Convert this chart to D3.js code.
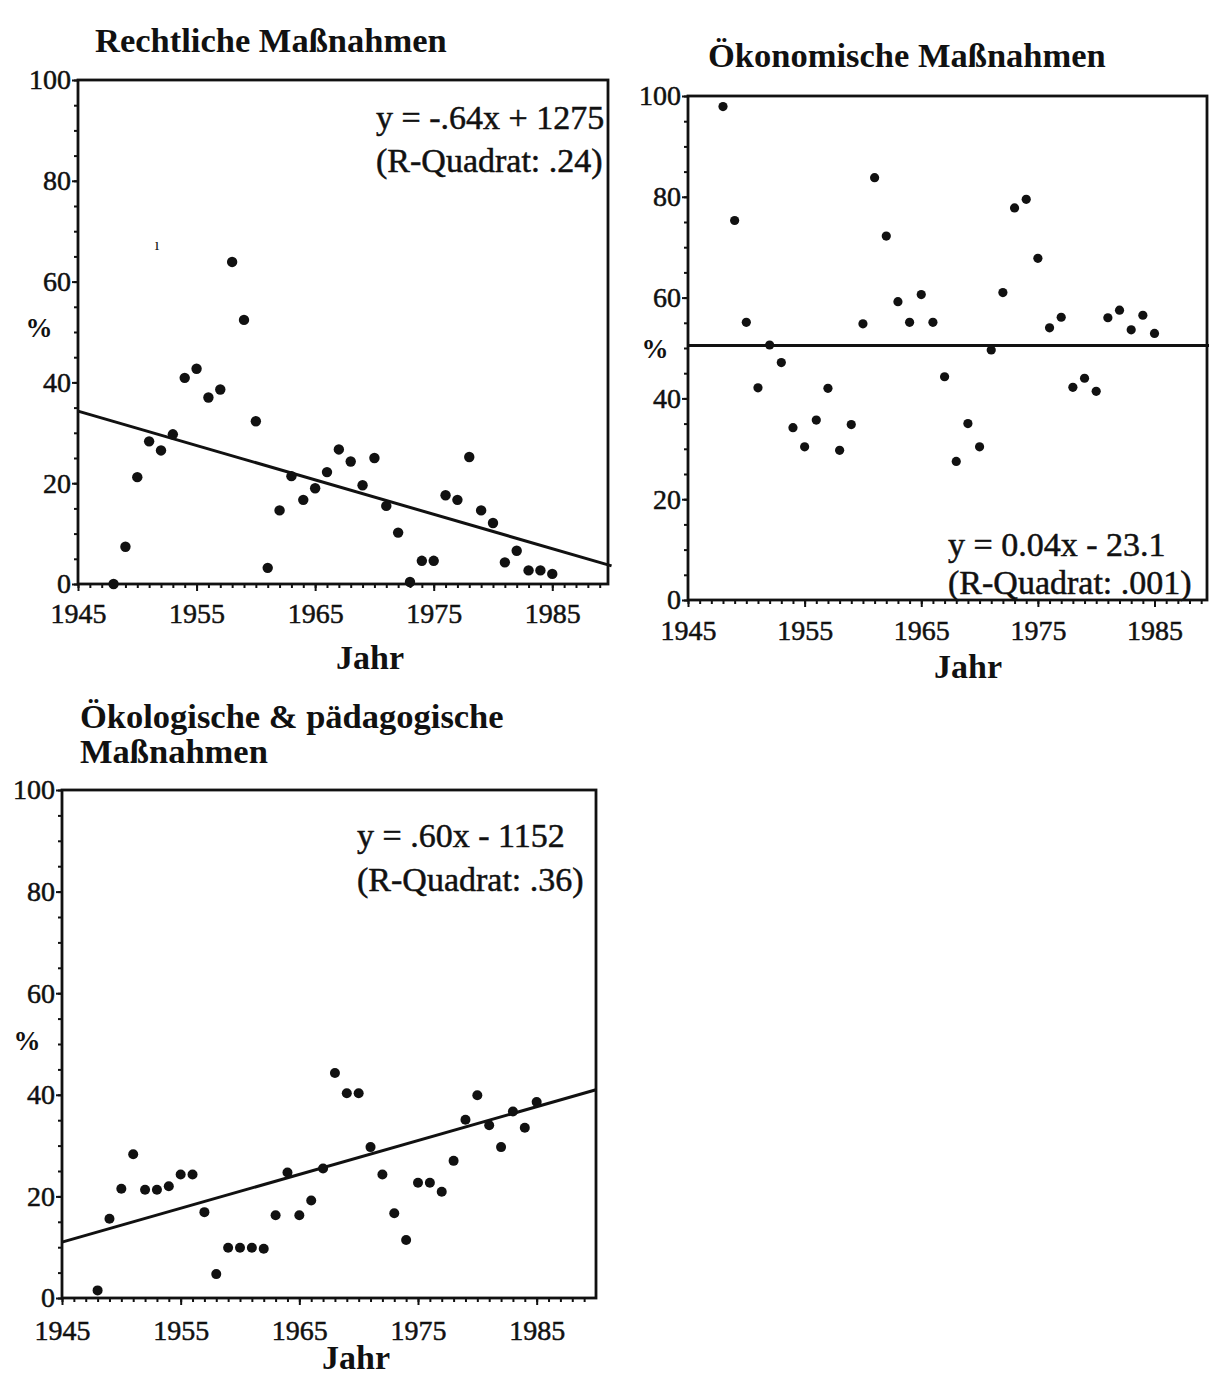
<!DOCTYPE html>
<html>
<head>
<meta charset="utf-8">
<script src="https://cdn.jsdelivr.net/npm/d3@7"></script>
<style>
  body { margin: 0; background: #fff; }
  text { font-family: "Liberation Serif", "DejaVu Serif", serif; fill: #111; }
</style>
</head>
<body>
<svg id="chart" width="1209" height="1376"></svg>
<script>
// Anteil der Maßnahmen (%) pro Jahr, drei Panels
var years = [1948, 1949, 1950, 1951, 1952, 1953, 1954, 1955, 1956, 1957,
             1958, 1959, 1960, 1961, 1962, 1963, 1964, 1965, 1966, 1967,
             1968, 1969, 1970, 1971, 1972, 1973, 1974, 1975, 1976, 1977,
             1978, 1979, 1980, 1981, 1982, 1983, 1984, 1985];

var rechtlich = [0, 7.4, 21.2, 28.3, 26.5, 29.7, 40.9, 42.7, 37, 38.6,
                 63.9, 52.4, 32.3, 3.2, 14.6, 21.4, 16.7, 19, 22.2, 26.7,
                 24.3, 19.6, 25, 15.5, 10.2, 0.4, 4.6, 4.6, 17.6, 16.7,
                 25.2, 14.6, 12.1, 4.3, 6.6, 2.7, 2.7, 2];

var oekonomisch = [97.9, 75.3, 55.1, 42.1, 50.6, 47.1, 34.2, 30.4, 35.7, 42,
                   29.7, 34.8, 54.8, 83.8, 72.2, 59.2, 55.1, 60.6, 55.1, 44.3,
                   27.5, 35, 30.4, 49.6, 61, 77.8, 79.5, 67.8, 54, 56.1,
                   42.2, 44, 41.4, 56, 57.5, 53.6, 56.5, 52.9];

var oekologisch = [1.5, 15.6, 21.5, 28.3, 21.3, 21.3, 22, 24.3, 24.3, 16.9,
                   4.7, 9.9, 9.9, 9.9, 9.7, 16.3, 24.7, 16.3, 19.2, 25.5,
                   44.3, 40.3, 40.3, 29.7, 24.3, 16.7, 11.4, 22.7, 22.7, 20.9,
                   27, 35.1, 39.9, 34, 29.7, 36.7, 33.5, 38.6];

// Regressionsgeraden: Wert bei 1945 und bei 1990
var trendYears = [1945, 1990];
var trendRechtlich = [34.3, 3.6];
var trendOekonomisch = [50.5, 50.5];
var trendOekologisch = [11, 41];

var xTickLabels = [1945, 1955, 1965, 1975, 1985];
var yTickLabels = [0, 20, 40, 60, 80, 100];

var svg = d3.select("#chart");

var panels = [
    {
        title: ["Rechtliche Maßnahmen"], titleX: 95, titleY: 52,
        left: 78, top: 80, right: 608, bottom: 584, xEnd: 1989.7, xPad: 12,
        values: rechtlich, trend: trendRechtlich, r: 5.2,
        eq: ["y = -.64x + 1275", "(R-Quadrat: .24)"], eqX: 376, eqY: [129, 172],
        pctX: 39, pctY: 337, jahrX: 370, jahrY: 669
    },
    {
        title: ["Ökonomische Maßnahmen"], titleX: 708, titleY: 67,
        left: 688, top: 96, right: 1207, bottom: 600, xEnd: 1989.5, xPad: 13,
        values: oekonomisch, trend: trendOekonomisch, r: 4.6,
        eq: ["y = 0.04x - 23.1", "(R-Quadrat: .001)"], eqX: 948, eqY: [556, 594],
        pctX: 655, pctY: 358, jahrX: 968, jahrY: 678
    },
    {
        title: ["Ökologische & pädagogische", "Maßnahmen"], titleX: 80, titleY: 728,
        left: 62, top: 790, right: 596, bottom: 1298, xEnd: 1990, xPad: 15,
        values: oekologisch, trend: trendOekologisch, r: 5,
        eq: ["y = .60x - 1152", "(R-Quadrat: .36)"], eqX: 357, eqY: [847, 891],
        pctX: 27, pctY: 1050, jahrX: 356, jahrY: 1369
    }
];

panels.forEach(function(p) {
    var x = d3.scaleLinear().domain([1945, p.xEnd]).range([p.left, p.right]);
    var y = d3.scaleLinear().domain([0, 100]).range([p.bottom, p.top]);
    var g = svg.append("g");

    // Titel
    g.append("text")
        .attr("x", p.titleX)
        .attr("y", p.titleY)
        .style("font-size", "34.5px")
        .style("font-weight", "bold")
        .selectAll("tspan")
        .data(p.title)
        .enter()
        .append("tspan")
        .attr("x", p.titleX)
        .attr("dy", function(d, i) { return i === 0 ? 0 : 35; })
        .text(function(d) { return d; });

    // Rahmen
    g.append("rect")
        .attr("x", p.left)
        .attr("y", p.top)
        .attr("width", p.right - p.left)
        .attr("height", p.bottom - p.top)
        .style("fill", "none")
        .style("stroke", "#111")
        .style("stroke-width", 2.8);

    // x-Achse: Jahresstriche, Beschriftung alle 10 Jahre
    g.append("g")
        .attr("transform", "translate(0," + p.bottom + ")")
        .call(d3.axisBottom(x).tickValues(d3.range(1945, 1990, 1)).tickSize(4).tickFormat(""));
    g.append("g")
        .attr("transform", "translate(0," + p.bottom + ")")
        .call(d3.axisBottom(x).tickValues(xTickLabels).tickSize(7).tickPadding(p.xPad).tickFormat(d3.format("d")));

    // y-Achse: Striche alle 5, Beschriftung alle 20
    g.append("g")
        .attr("transform", "translate(" + p.left + ",0)")
        .call(d3.axisLeft(y).tickValues(d3.range(0, 101, 5)).tickSize(4).tickFormat(""));
    g.append("g")
        .attr("transform", "translate(" + p.left + ",0)")
        .call(d3.axisLeft(y).tickValues(yTickLabels).tickSize(6).tickPadding(1));

    g.selectAll(".domain").remove();
    g.selectAll(".tick line").style("stroke", "#111").style("stroke-width", 2);
    g.selectAll(".tick text")
        .style("font-size", "28px")
        .style("fill", "#111")
        .style("stroke", "#111")
        .style("stroke-width", 0.5)
        .style("font-family", "'Liberation Serif', serif");

    // Regressionsgerade
    var line = d3.line()
        .x(function(d) { return x(d[0]); })
        .y(function(d) { return y(d[1]); });
    g.append("path")
        .datum(trendYears.map(function(yr, i) { return [yr, p.trend[i]]; }))
        .attr("d", line)
        .style("fill", "none")
        .style("stroke", "#111")
        .style("stroke-width", 3);

    // Punkte
    g.selectAll(".dot")
        .data(years.map(function(yr, i) { return { year: yr, value: p.values[i] }; }))
        .enter()
        .append("circle")
        .attr("class", "dot")
        .attr("cx", function(d) { return x(d.year); })
        .attr("cy", function(d) { return y(d.value); })
        .attr("r", p.r)
        .style("fill", "#111");

    // Gleichung
    g.selectAll(".eq")
        .data(p.eq)
        .enter()
        .append("text")
        .attr("class", "eq")
        .attr("x", p.eqX)
        .attr("y", function(d, i) { return p.eqY[i]; })
        .style("font-size", "34px")
        .style("stroke", "#111")
        .style("stroke-width", 0.5)
        .text(function(d) { return d; });

    // Achsentitel
    g.append("text")
        .attr("x", p.pctX)
        .attr("y", p.pctY)
        .attr("text-anchor", "middle")
        .style("font-size", "27px")
        .style("font-weight", "bold")
        .text("%");

    g.append("text")
        .attr("x", p.jahrX)
        .attr("y", p.jahrY)
        .attr("text-anchor", "middle")
        .style("font-size", "34px")
        .style("font-weight", "bold")
        .text("Jahr");
});

// kleines Zeichen im ersten Panel (im Original vorhanden)
svg.append("text")
    .attr("x", 157)
    .attr("y", 250)
    .attr("text-anchor", "middle")
    .style("font-size", "16px")
    .text("ı");
</script>
</body>
</html>
